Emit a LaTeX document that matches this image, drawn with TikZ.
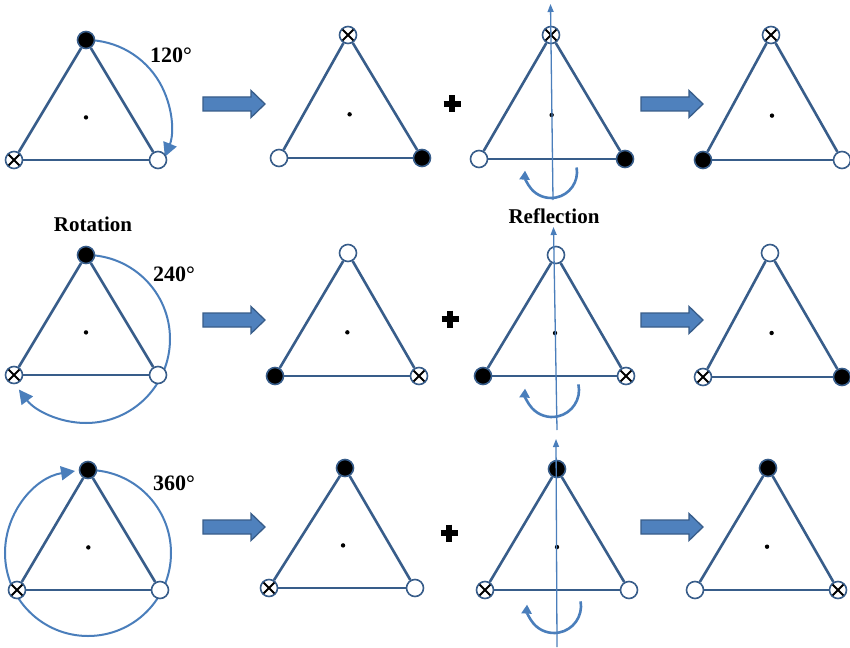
\documentclass[tikz,border=0pt]{standalone}
\usepackage{fontspec}
\setmainfont{Liberation Serif}
\usetikzlibrary{calc,arrows.meta}
\definecolor{tricol}{RGB}{56,93,138}
\definecolor{rotcol}{RGB}{74,126,187}
\definecolor{arrfill}{RGB}{79,129,189}
\tikzset{
  triline/.style={draw=tricol,line width=2.6pt},
  vbase/.style={circle,draw=tricol,line width=1.6pt,minimum size=17pt,inner sep=0pt},
  vW/.style={vbase,fill=white},
  vB/.style={vbase,fill=black},
  vX/.style={vbase,fill=white,path picture={
     \draw[black,line width=1.9pt] (path picture bounding box.south west) -- (path picture bounding box.north east)
       (path picture bounding box.north west) -- (path picture bounding box.south east);}},
  rotarc/.style={draw=rotcol,line width=2pt,-{Triangle[length=14pt,width=14pt]}},
  reflarc/.style={draw=rotcol,line width=2.6pt,-{Triangle[length=9pt,width=10pt]}},
  axisline/.style={draw=rotcol,line width=1.3pt,-{Triangle[length=8pt,width=6pt]}},
  barrowst/.style={draw=tricol,fill=arrfill,line width=1.3pt,line join=miter},
  lab/.style={font=\fontsize{21}{24}\selectfont\bfseries,inner sep=0pt},
  deg/.style={font=\fontsize{22}{26}\selectfont\bfseries,inner sep=0pt},
  plusline/.style={line width=6pt,black}
}
\newcommand\trig[7]{%
  \node[#5] (#1t) at #2 {};
  \node[#6] (#1l) at #3 {};
  \node[#7] (#1r) at #4 {};
  \draw[triline] (#1t) -- (#1l);
  \draw[triline] (#1l) -- (#1r);
  \draw[triline] (#1r) -- (#1t);
  \coordinate (#1c) at ($(#1t.center)!0.645!($(#1l.center)!0.5!(#1r.center)$)$);
  \fill (#1c) circle (2.2pt);
}
\newcommand\plussign[1]{%
  \draw[plusline] ($(#1)+(-8.5,0)$) -- ($(#1)+(8.5,0)$);
  \draw[plusline] ($(#1)+(0,-8.5)$) -- ($(#1)+(0,8.5)$);
}
\newcommand\blockarrow[2]{%
  \coordinate (#1) at #2;
  \draw[barrowst] (#1) ++(0,-7) -- ++(48,0) -- ++(0,-6.5) -- ++(14,13.5)
     -- ++(-14,13.5) -- ++(0,-6.5) -- ++(-48,0) -- cycle;
}
\begin{document}
\begin{tikzpicture}[x=1pt,y=-1pt]
\useasboundingbox (0,0) rectangle (850,647);
\fill[white] (0,0) rectangle (850,647);

% rotation arcs (drawn first)
\draw[rotarc] (86,40) arc[start angle=-90,end angle=22,radius=85];
\draw[rotarc] (86,255) arc[start angle=-90,end angle=143,radius=84];
\draw[rotarc] (88,470) arc[start angle=-90,end angle=261,radius=83];

% row 1
\trig{a1}{(86,40)}{(14,160)}{(158,160)}{vB}{vX}{vW}
\trig{a2}{(348,35)}{(279,158)}{(422,158)}{vX}{vW}{vB}
\trig{a3}{(551,35)}{(479,159)}{(625,159)}{vX}{vW}{vB}
\trig{a4}{(771,35)}{(703,160)}{(842,160)}{vX}{vB}{vW}
% row 2
\trig{b1}{(86,255)}{(14,375)}{(158,375)}{vB}{vX}{vW}
\trig{b2}{(348,253)}{(275,376)}{(419,376)}{vW}{vB}{vX}
\trig{b3}{(556,255)}{(483,376)}{(626,376)}{vW}{vB}{vX}
\trig{b4}{(770,253)}{(703,377)}{(842,377)}{vW}{vX}{vB}
% row 3
\trig{c1}{(88,470)}{(17,590)}{(160,590)}{vB}{vX}{vW}
\trig{c2}{(345,468)}{(269,588)}{(415,588)}{vB}{vX}{vW}
\trig{c3}{(557,469)}{(485,590)}{(629,590)}{vB}{vX}{vW}
\trig{c4}{(768,468)}{(695,590)}{(838,590)}{vB}{vW}{vX}

% reflection axes
\coordinate (ax1b) at (553,200); \coordinate (ax1t) at (550.5,4);
\coordinate (ax2b) at (557,430); \coordinate (ax2t) at (553.5,227);
\coordinate (ax3b) at (557,647); \coordinate (ax3t) at (556,439);
\draw[axisline] (ax1b) -- (ax1t);
\draw[axisline] (ax2b) -- (ax2t);
\draw[axisline] (ax3b) -- (ax3t);

% reflection curved arrows
\draw[reflarc] (551,172) ++(-10:26) arc[start angle=-10,end angle=183,radius=26];
\draw[reflarc] (552,390) ++(-12:27) arc[start angle=-12,end angle=183,radius=27];
\draw[reflarc] (554,606) ++(-10:27) arc[start angle=-10,end angle=183,radius=27];

% block arrows (left-middle points)
\blockarrow{ba1}{(203,104)}
\blockarrow{ba2}{(641,104)}
\blockarrow{bb1}{(203,320)}
\blockarrow{bb2}{(641,320)}
\blockarrow{bc1}{(203,527)}
\blockarrow{bc2}{(641,527)}

% plus signs
\coordinate (p1) at (452,104);
\coordinate (p2) at (450,319);
\coordinate (p3) at (449,533);
\plussign{p1}
\plussign{p2}
\plussign{p3}

% labels
\node[deg] (d1) at (171,55) {120°};
\node[deg] (d2) at (174,274) {240°};
\node[deg] (d3) at (174,483) {360°};
\node[lab] (rot) at (93,224) {Rotation};
\node[lab] (refl) at (554,216) {Reflection};
\end{tikzpicture}
\end{document}
